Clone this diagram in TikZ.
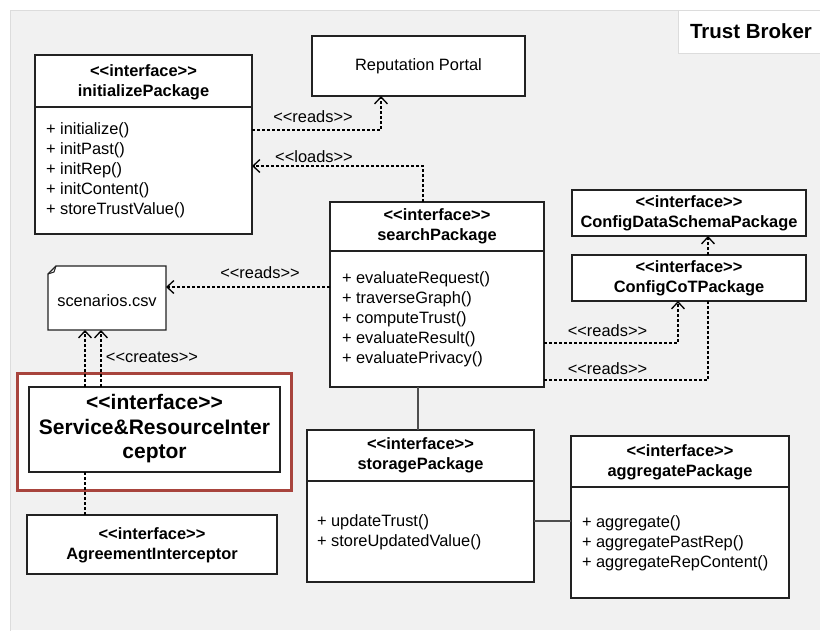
\documentclass[tikz,border=0pt]{standalone}
\usepackage{fontspec}
\setmainfont{Liberation Sans}
\usetikzlibrary{arrows.meta,calc}
\definecolor{panel}{HTML}{F1F1F1}
\definecolor{panelline}{HTML}{DCDCDC}
\definecolor{ink}{HTML}{222222}
\definecolor{frame}{HTML}{A8443D}
\newcommand{\stereo}[1]{<{}<#1>{}>}
\tikzset{
  every node/.style={font=\fontsize{16.4}{20}\selectfont, inner sep=0pt, outer sep=0pt},
  cls/.style={draw=ink, fill=white, line width=1.2pt, rectangle},
  hdr/.style={align=center, font=\fontsize{16.4}{20}\selectfont\bfseries},
  ops/.style={align=left, anchor=west},
  lbl/.style={font=\fontsize{16.4}{20}\selectfont},
  sep/.style={draw=ink, line width=1.2pt},
  dep/.style={draw=black, line width=1.3pt, dash pattern=on 3pt off 2pt},
  opentip/.style={-{Straight Barb[length=7pt,width=13pt,line width=1.3pt]}},
  assoc/.style={draw=ink!80, line width=1.3pt},
}
\begin{document}
\begin{tikzpicture}[x=1pt,y=-1pt]
\useasboundingbox (0,0) rectangle (820,630);
% container panel and its title
\fill[white] (0,0) rectangle (820,630);
\fill[panel] (10,10) rectangle (820,630);
\draw[panelline, line width=1pt] (10,640) -- (10,10) -- (830,10);
\node[draw=panelline, fill=white, line width=1pt, minimum width=142pt, minimum height=43pt] (title) at (749,31.5) {};
\node[font=\fontsize{20.5}{24}\selectfont\bfseries] (titletext) at (751,31) {Trust Broker};

% initializePackage
\node[cls, minimum width=217pt, minimum height=179pt] (init) at (143.5,144.5) {};
\draw[sep] ($(init.north west)+(0,52)$) -- ($(init.north east)+(0,52)$);
\node[hdr] (inithdr) at (143.5,82) {\stereo{interface}\\initializePackage};
\node[ops] (initops) at (46,170) {+ initialize()\\+ initPast()\\+ initRep()\\+ initContent()\\+ storeTrustValue()};

% Reputation Portal
\node[cls, minimum width=213pt, minimum height=60pt] (rep) at (418.5,66) {};
\node (reptext) at (418.5,66) {Reputation Portal};

% searchPackage
\node[cls, minimum width=214pt, minimum height=185pt] (search) at (437,294.5) {};
\draw[sep] ($(search.north west)+(0,49)$) -- ($(search.north east)+(0,49)$);
\node[hdr] (searchhdr) at (437,226) {\stereo{interface}\\searchPackage};
\node[ops] (searchops) at (342,319) {+ evaluateRequest()\\+ traverseGraph()\\+ computeTrust()\\+ evaluateResult()\\+ evaluatePrivacy()};

% ConfigDataSchemaPackage and ConfigCoTPackage
\node[cls, minimum width=234pt, minimum height=46pt] (schema) at (689,213) {};
\node[hdr] (schemahdr) at (689,213) {\stereo{interface}\\ConfigDataSchemaPackage};
\node[cls, minimum width=234pt, minimum height=46pt] (cot) at (689,278) {};
\node[hdr] (cothdr) at (689,278) {\stereo{interface}\\ConfigCoTPackage};

% scenarios.csv note with folded corner
\node[minimum width=118pt, minimum height=64pt] (csv) at (107,298) {};
\draw[ink, fill=white, line width=1.2pt]
  ($(csv.north west)+(8,0)$) -- (csv.north east) -- (csv.south east) -- (csv.south west)
  -- ($(csv.north west)+(0,8)$) -- cycle;
\draw[ink, line width=1pt] ($(csv.north west)+(0,8)$) -- ($(csv.north west)+(6,6)$) -- ($(csv.north west)+(8,0)$);
\node (csvtext) at (107,301) {scenarios.csv};

% Service&ResourceInterceptor inside its highlight frame
\node[draw=frame, fill=white, line width=3pt, minimum width=274pt, minimum height=117pt] (hilite) at (154,431.5) {};
\node[cls, minimum width=251pt, minimum height=85pt] (sri) at (154.5,429.5) {};
\node[align=center, font=\fontsize{21}{24.5}\selectfont\bfseries] (srihdr) at (154.5,429) {\stereo{interface}\\Service\&ResourceInter\\ceptor};

% AgreementInterceptor
\node[cls, minimum width=250pt, minimum height=59pt] (agree) at (152,544.5) {};
\node[hdr] (agreehdr) at (152,545) {\stereo{interface}\\AgreementInterceptor};

% storagePackage
\node[cls, minimum width=227pt, minimum height=152pt] (storage) at (420.5,506) {};
\draw[sep] ($(storage.north west)+(0,51)$) -- ($(storage.north east)+(0,51)$);
\node[hdr] (storagehdr) at (420.5,455.5) {\stereo{interface}\\storagePackage};
\node[ops] (storageops) at (317,532) {+ updateTrust()\\+ storeUpdatedValue()};

% aggregatePackage
\node[cls, minimum width=218pt, minimum height=162pt] (agg) at (680,517) {};
\draw[sep] ($(agg.north west)+(0,51)$) -- ($(agg.north east)+(0,51)$);
\node[hdr] (agghdr) at (680,462) {\stereo{interface}\\aggregatePackage};
\node[ops] (aggops) at (582,543) {+ aggregate()\\+ aggregatePastRep()\\+ aggregateRepContent()};

% dependencies
\draw[dep, opentip] ($(init.north east)+(0,75)$) -| ($(rep.south west)+(69,0)$);
\node[lbl] (lreadsrep) at (313,117) {\stereo{reads}};

\draw[dep, opentip] ($(search.north west)+(93,0)$) |- ($(init.north east)+(0,111)$);
\node[lbl] (lloads) at (314,157) {\stereo{loads}};

\draw[dep, opentip] ($(search.north west)+(0,85)$) -- ($(csv.north east)+(0,21)$);
\node[lbl] (lreadscsv) at (260,273) {\stereo{reads}};

\draw[dep, opentip] ($(search.north east)+(0,141)$) -| ($(cot.south west)+(106,0)$);
\node[lbl] (lreadscot) at (607.5,331) {\stereo{reads}};

\draw[dep] ($(search.north east)+(0,178)$) -| ($(cot.south west)+(136,0)$);
\node[lbl] (lreadscot2) at (607.5,369) {\stereo{reads}};

\draw[dep, opentip] ($(cot.north west)+(136,0)$) -- ($(schema.south west)+(136,0)$);

\draw[dep, opentip] ($(sri.north west)+(56,0)$) -- ($(csv.south west)+(37,0)$);
\draw[dep, opentip] ($(sri.north west)+(72,0)$) -- ($(csv.south west)+(53,0)$);
\node[lbl] (lcreates) at (152,357) {\stereo{creates}};

\draw[dep] ($(sri.south west)+(56,0)$) -- ($(agree.north west)+(58,0)$);

% associations
\draw[assoc] ($(search.south west)+(88,0)$) -- ($(storage.north west)+(111,0)$);
\draw[assoc] ($(storage.north east)+(0,91)$) -- ($(agg.north west)+(0,85)$);
\end{tikzpicture}
\end{document}
